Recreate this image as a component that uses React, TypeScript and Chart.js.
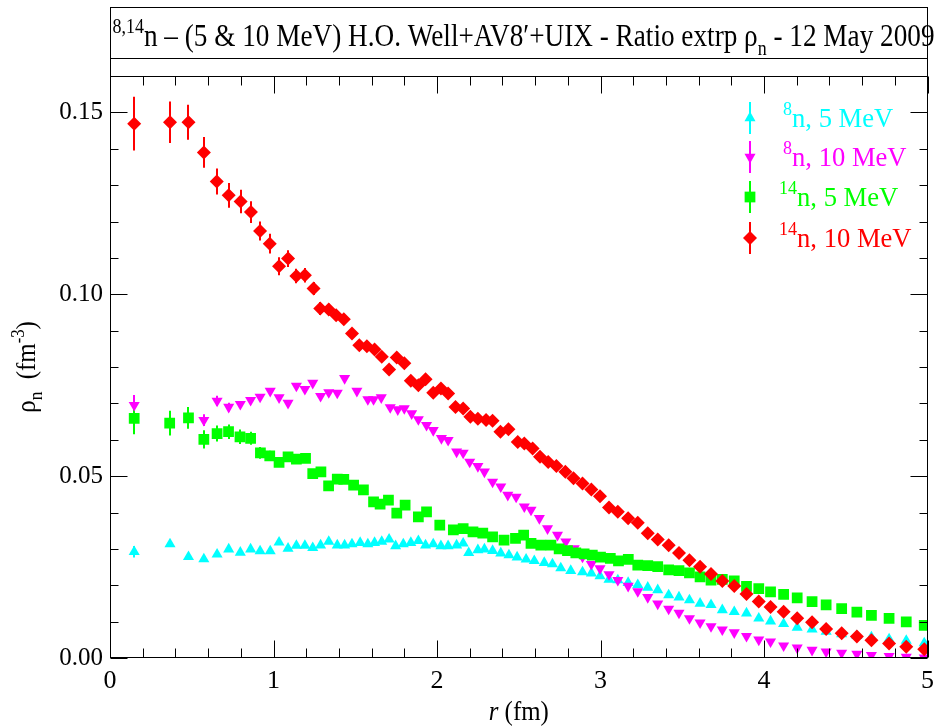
import React, { useEffect, useRef } from 'react';
import { Chart, registerables } from 'chart.js';

Chart.register(...registerables);

const FONT = '"Liberation Serif", "Times New Roman", Times, serif';

// 8n, 5 MeV (cyan)
const r8n5 = [0.148, 0.367, 0.48, 0.574, 0.655, 0.726, 0.797, 0.86, 0.918, 0.98, 1.034, 1.089, 1.14, 1.192, 1.24, 1.288, 1.338, 1.39, 1.435, 1.48, 1.53, 1.577, 1.618, 1.662, 1.707, 1.747, 1.794, 1.84, 1.886, 1.93, 1.977, 2.024, 2.068, 2.12, 2.16, 2.194, 2.25, 2.29, 2.34, 2.39, 2.44, 2.49, 2.545, 2.595, 2.656, 2.706, 2.757, 2.818, 2.89, 2.944, 2.997, 3.052, 3.106, 3.169, 3.228, 3.289, 3.35, 3.417, 3.48, 3.544, 3.609, 3.676, 3.745, 3.818, 3.893, 3.968, 4.04, 4.12, 4.203, 4.294, 4.38, 4.475, 4.568, 4.657, 4.765, 4.87, 4.98];
const rho8n5 = [0.0292, 0.0313, 0.0278, 0.0272, 0.0285, 0.0299, 0.029, 0.0299, 0.0294, 0.0294, 0.0318, 0.0301, 0.0309, 0.0309, 0.0303, 0.031, 0.032, 0.031, 0.031, 0.0313, 0.0317, 0.0313, 0.0317, 0.032, 0.0326, 0.0308, 0.0313, 0.0317, 0.0322, 0.031, 0.0313, 0.0308, 0.0308, 0.031, 0.0315, 0.0289, 0.0297, 0.0299, 0.0295, 0.0288, 0.0283, 0.0277, 0.0271, 0.0267, 0.0262, 0.0258, 0.0247, 0.024, 0.0236, 0.0233, 0.0225, 0.0216, 0.0214, 0.0207, 0.0201, 0.0194, 0.0187, 0.0173, 0.0167, 0.0159, 0.015, 0.0146, 0.0132, 0.0127, 0.0123, 0.0109, 0.0101, 0.0094, 0.0084, 0.0079, 0.0073, 0.0066, 0.0061, 0.0057, 0.0052, 0.0048, 0.0041];
const err8n5 = [0.0016, 0.0008, 0.0007];

// 8n, 10 MeV (magenta)
const r8n10 = [0.148, 0.574, 0.655, 0.726, 0.797, 0.86, 0.918, 0.98, 1.034, 1.089, 1.14, 1.192, 1.24, 1.288, 1.338, 1.39, 1.435, 1.51, 1.577, 1.612, 1.659, 1.714, 1.76, 1.8, 1.845, 1.886, 1.936, 1.977, 2.027, 2.068, 2.12, 2.16, 2.2, 2.25, 2.29, 2.34, 2.39, 2.433, 2.484, 2.534, 2.575, 2.626, 2.676, 2.737, 2.788, 2.839, 2.89, 2.944, 2.997, 3.052, 3.106, 3.169, 3.228, 3.289, 3.35, 3.417, 3.48, 3.544, 3.609, 3.676, 3.745, 3.818, 3.893, 3.968, 4.04, 4.12, 4.203, 4.294, 4.38, 4.475, 4.568, 4.657, 4.765, 4.87, 4.98];
const rho8n10 = [0.0695, 0.0654, 0.0707, 0.069, 0.0698, 0.0709, 0.0718, 0.0734, 0.0716, 0.0701, 0.0748, 0.0739, 0.0756, 0.072, 0.073, 0.0729, 0.0769, 0.0734, 0.0711, 0.0711, 0.0716, 0.0689, 0.0683, 0.0686, 0.0672, 0.0656, 0.064, 0.0626, 0.0604, 0.0599, 0.0567, 0.0564, 0.0539, 0.0527, 0.0512, 0.0484, 0.0471, 0.0448, 0.0443, 0.0416, 0.0407, 0.0384, 0.0356, 0.0338, 0.032, 0.0301, 0.0278, 0.0258, 0.0246, 0.023, 0.0214, 0.0198, 0.0183, 0.0167, 0.0149, 0.0135, 0.0124, 0.0109, 0.0097, 0.0087, 0.0078, 0.007, 0.006, 0.005, 0.0045, 0.0034, 0.0028, 0.0022, 0.0017, 0.0014, 0.0011, 0.0008, 0.0005, 0.0003, 0.0001];
const err8n10 = [0.0028, 0.0016, 0.0014, 0.0012];

// 14n, 5 MeV (green)
const r14n5 = [0.148, 0.365, 0.48, 0.574, 0.655, 0.725, 0.795, 0.86, 0.92, 0.977, 1.034, 1.089, 1.14, 1.196, 1.24, 1.29, 1.337, 1.39, 1.43, 1.49, 1.55, 1.612, 1.652, 1.703, 1.754, 1.805, 1.886, 1.936, 2.017, 2.1, 2.16, 2.22, 2.28, 2.34, 2.41, 2.48, 2.53, 2.575, 2.635, 2.697, 2.747, 2.798, 2.849, 2.9, 2.95, 3.0, 3.06, 3.11, 3.17, 3.228, 3.289, 3.35, 3.417, 3.48, 3.544, 3.609, 3.676, 3.745, 3.818, 3.893, 3.968, 4.04, 4.12, 4.203, 4.294, 4.38, 4.475, 4.568, 4.657, 4.765, 4.87, 4.98];
const rho14n5 = [0.0659, 0.0646, 0.066, 0.0601, 0.0617, 0.0622, 0.0608, 0.0604, 0.0564, 0.0556, 0.0538, 0.0553, 0.0547, 0.0549, 0.0507, 0.0512, 0.0473, 0.0492, 0.0491, 0.0475, 0.0462, 0.0429, 0.0423, 0.0434, 0.0398, 0.042, 0.0388, 0.0402, 0.0365, 0.0352, 0.0356, 0.0347, 0.0343, 0.0333, 0.0324, 0.0329, 0.0338, 0.0315, 0.031, 0.031, 0.03, 0.0295, 0.0289, 0.0286, 0.0283, 0.0277, 0.0274, 0.0267, 0.0271, 0.0255, 0.0254, 0.0251, 0.0242, 0.024, 0.0234, 0.0223, 0.0214, 0.0216, 0.0212, 0.0197, 0.0191, 0.0182, 0.0175, 0.0165, 0.0155, 0.0146, 0.0136, 0.0126, 0.0117, 0.0109, 0.0099, 0.009];
const err14n5 = [0.0044, 0.0034, 0.003, 0.0025, 0.0022, 0.002, 0.002, 0.0018, 0.0016, 0.0014];

// 14n, 10 MeV (red)
const r14n10 = [0.148, 0.367, 0.48, 0.574, 0.653, 0.726, 0.799, 0.862, 0.918, 0.977, 1.034, 1.089, 1.14, 1.192, 1.245, 1.286, 1.338, 1.383, 1.43, 1.48, 1.525, 1.571, 1.618, 1.662, 1.707, 1.754, 1.8, 1.84, 1.886, 1.93, 1.977, 2.024, 2.068, 2.113, 2.16, 2.204, 2.25, 2.3, 2.34, 2.388, 2.437, 2.494, 2.534, 2.585, 2.63, 2.68, 2.73, 2.785, 2.835, 2.89, 2.944, 2.997, 3.052, 3.106, 3.169, 3.228, 3.289, 3.35, 3.417, 3.48, 3.544, 3.609, 3.676, 3.745, 3.818, 3.893, 3.968, 4.04, 4.12, 4.203, 4.294, 4.38, 4.475, 4.568, 4.657, 4.765, 4.87, 4.98];
const rho14n10 = [0.1469, 0.1473, 0.1473, 0.139, 0.131, 0.1272, 0.1255, 0.1226, 0.1174, 0.1139, 0.1077, 0.1098, 0.105, 0.1052, 0.1016, 0.0961, 0.0958, 0.0942, 0.0931, 0.0892, 0.086, 0.0857, 0.0848, 0.0828, 0.0793, 0.0826, 0.081, 0.0762, 0.075, 0.0766, 0.0729, 0.0741, 0.0727, 0.069, 0.0686, 0.0663, 0.0658, 0.0654, 0.0652, 0.0622, 0.0629, 0.0594, 0.059, 0.0576, 0.0553, 0.0539, 0.0528, 0.0512, 0.0494, 0.048, 0.0463, 0.0445, 0.0414, 0.0402, 0.0384, 0.0372, 0.0343, 0.0326, 0.031, 0.0289, 0.0269, 0.0251, 0.0231, 0.0212, 0.0198, 0.0176, 0.0155, 0.014, 0.0127, 0.0109, 0.0098, 0.008, 0.0068, 0.0059, 0.0049, 0.004, 0.0031, 0.0024];
const err14n10 = [0.0074, 0.0057, 0.0048, 0.0042, 0.0036, 0.0034, 0.0032, 0.003, 0.0026, 0.0027, 0.0025, 0.0023, 0.002, 0.002, 0.0018, 0.0018, 0.0016];

const xTickValues = [0, 1, 2, 3, 4, 5];
const yTickValues = [0, 0.05, 0.1, 0.15];

const CYAN = '#00ffff';
const MAGENTA = '#ff00ff';
const GREEN = '#00ff00';
const RED = '#ff0000';

type Seg = { t: string; size: number; dy?: number; italic?: boolean };

function segFont(s: Seg) {
  return `${s.italic ? 'italic ' : ''}${s.size}px ${FONT}`;
}

function richWidth(ctx: CanvasRenderingContext2D, segs: Seg[]) {
  let w = 0;
  for (const s of segs) {
    ctx.font = segFont(s);
    w += ctx.measureText(s.t).width;
  }
  return w;
}

function drawRich(ctx: CanvasRenderingContext2D, segs: Seg[], x: number, y: number, color: string, align: 'left' | 'center' = 'left', sx = 1) {
  const w = richWidth(ctx, segs) * sx;
  const x0 = align === 'center' ? x - w / 2 : x;
  ctx.save();
  ctx.translate(x0, y);
  ctx.scale(sx, 1);
  ctx.fillStyle = color;
  ctx.textBaseline = 'alphabetic';
  ctx.textAlign = 'left';
  let cx = 0;
  for (const s of segs) {
    ctx.font = segFont(s);
    ctx.fillText(s.t, cx, s.dy || 0);
    cx += ctx.measureText(s.t).width;
  }
  ctx.restore();
}

function drawMarker(ctx: CanvasRenderingContext2D, style: string, x: number, y: number, r: number, color: string) {
  ctx.fillStyle = color;
  ctx.beginPath();
  if (style === 'triangle' || style === 'triangleDown') {
    const s = style === 'triangle' ? 1 : -1;
    const h = Math.sin(Math.PI / 3) * r;
    ctx.moveTo(x, y - s * r);
    ctx.lineTo(x + h, y + s * r * 0.5);
    ctx.lineTo(x - h, y + s * r * 0.5);
  } else if (style === 'rect') {
    const a = r * Math.SQRT1_2;
    ctx.rect(x - a, y - a, 2 * a, 2 * a);
  } else {
    ctx.moveTo(x, y - r);
    ctx.lineTo(x + r, y);
    ctx.lineTo(x, y + r);
    ctx.lineTo(x - r, y);
  }
  ctx.closePath();
  ctx.fill();
}

const legendEntries = [
  { color: CYAN, style: 'triangle', r: 6.4, sup: '8', main: 'n, 5 MeV', y: 118 },
  { color: MAGENTA, style: 'triangleDown', r: 6.4, sup: '8', main: 'n, 10 MeV', y: 157 },
  { color: GREEN, style: 'rect', r: 7.6, sup: '14', main: 'n, 5 MeV', y: 197 },
  { color: RED, style: 'rectRot', r: 7, sup: '14', main: 'n, 10 MeV', y: 238 },
];

const errorBarPlugin = {
  id: 'errorBars',
  beforeDatasetsDraw(chart: any) {
    const ctx = chart.ctx as CanvasRenderingContext2D;
    const xs = chart.scales.x;
    const ys = chart.scales.y;
    ctx.save();
    chart.data.datasets.forEach((ds: any) => {
      const errs: number[] = ds.errors || [];
      ctx.strokeStyle = ds.backgroundColor;
      ctx.lineWidth = 2;
      ds.data.forEach((p: any, j: number) => {
        const e = errs[j];
        if (!e) return;
        const px = Math.round(xs.getPixelForValue(p.x));
        ctx.beginPath();
        ctx.moveTo(px, ys.getPixelForValue(p.y - e));
        ctx.lineTo(px, ys.getPixelForValue(p.y + e));
        ctx.stroke();
      });
    });
    ctx.restore();
  },
};

const decorPlugin = {
  id: 'decor',
  afterDraw(chart: any) {
    const ctx = chart.ctx as CanvasRenderingContext2D;
    const a = chart.chartArea;
    const xs = chart.scales.x;
    const ys = chart.scales.y;
    ctx.save();
    ctx.strokeStyle = '#000';
    ctx.lineWidth = 1;
    const L = Math.round(a.left) + 0.5;
    const R = Math.round(a.right) - 0.5;
    const T = Math.round(a.top) + 0.5;
    const B = Math.round(a.bottom) - 0.5;
    ctx.strokeRect(L, T, R - L, B - T);
    ctx.strokeRect(L, 7.5, R - L, T - 7.5);
    ctx.beginPath();
    ctx.moveTo(L, 58.5);
    ctx.lineTo(R, 58.5);
    ctx.stroke();

    ctx.beginPath();
    for (let i = 0; i <= 25; i++) {
      const v = i * 0.2;
      const px = Math.round(xs.getPixelForValue(v)) + 0.5;
      const len = i % 5 === 0 ? 17 : 9;
      ctx.moveTo(px, B);
      ctx.lineTo(px, B - len);
      ctx.moveTo(px, T);
      ctx.lineTo(px, T + len);
    }
    for (let i = 0; i <= 16; i++) {
      const v = i * 0.01;
      const py = Math.round(ys.getPixelForValue(v)) + 0.5;
      const len = i % 5 === 0 ? 17 : 8;
      ctx.moveTo(L, py);
      ctx.lineTo(L + len, py);
      ctx.moveTo(R, py);
      ctx.lineTo(R - len, py);
    }
    ctx.stroke();

    // title (condensed serif)
    const ts = 31;
    const titleSegs: Seg[] = [
      { t: '8,14', size: ts * 0.66, dy: -ts * 0.42 },
      { t: 'n \u2013 (5 & 10 MeV) H.O. Well+AV8\u2032+UIX - Ratio extrp \u03c1', size: ts },
      { t: 'n', size: ts * 0.66, dy: ts * 0.28 },
      { t: ' - 12 May 2009', size: ts },
    ];
    const w0 = richWidth(ctx, titleSegs);
    drawRich(ctx, titleSegs, L + 2, 46, '#000', 'left', 822 / w0);

    // axis titles
    drawRich(ctx, [
      { t: 'r', size: 27, italic: true },
      { t: ' (fm)', size: 27 },
    ], (a.left + a.right) / 2, 720, '#000', 'center', 0.92);

    ctx.save();
    ctx.translate(35, (a.top + a.bottom) / 2);
    ctx.rotate(-Math.PI / 2);
    drawRich(ctx, [
      { t: '\u03c1', size: 27 },
      { t: 'n', size: 19, dy: 7 },
      { t: '  (fm', size: 27 },
      { t: '-3', size: 18, dy: -11 },
      { t: ')', size: 27 },
    ], 0, 0, '#000', 'center', 0.92);
    ctx.restore();

    // legend
    for (const e of legendEntries) {
      ctx.strokeStyle = e.color;
      ctx.lineWidth = 2;
      ctx.beginPath();
      ctx.moveTo(750, e.y - 16);
      ctx.lineTo(750, e.y + 16);
      ctx.stroke();
      drawMarker(ctx, e.style, 750, e.y, e.r, e.color);
      const tx = e.sup.length > 1 ? 779 : 783;
      drawRich(ctx, [
        { t: e.sup, size: 19, dy: -12 },
        { t: e.main, size: 28 },
      ], tx, e.y + 9, e.color, 'left', 0.95);
    }
    ctx.restore();
  },
};

function pts(xs: number[], ys: number[]) {
  return xs.map((x, i) => ({ x, y: ys[i] }));
}

export default function App() {
  const ref = useRef<HTMLCanvasElement | null>(null);

  useEffect(() => {
    if (!ref.current) return;
    const chart = new Chart(ref.current, {
      type: 'scatter',
      data: {
        datasets: [
          {
            label: '8n, 5 MeV',
            data: pts(r8n5, rho8n5),
            errors: err8n5,
            backgroundColor: CYAN,
            borderColor: CYAN,
            pointStyle: 'triangle',
            pointRadius: 6.4,
            pointBorderWidth: 0,
            order: 3,
          } as any,
          {
            label: '8n, 10 MeV',
            data: pts(r8n10, rho8n10),
            errors: err8n10,
            backgroundColor: MAGENTA,
            borderColor: MAGENTA,
            pointStyle: 'triangle',
            rotation: 180,
            pointRadius: 6.4,
            pointBorderWidth: 0,
            order: 2,
          } as any,
          {
            label: '14n, 5 MeV',
            data: pts(r14n5, rho14n5),
            errors: err14n5,
            backgroundColor: GREEN,
            borderColor: GREEN,
            pointStyle: 'rect',
            pointRadius: 7.6,
            pointBorderWidth: 0,
            order: 1,
          } as any,
          {
            label: '14n, 10 MeV',
            data: pts(r14n10, rho14n10),
            errors: err14n10,
            backgroundColor: RED,
            borderColor: RED,
            pointStyle: 'rectRot',
            pointRadius: 7,
            pointBorderWidth: 0,
            order: 0,
          } as any,
        ],
      },
      options: {
        animation: false,
        responsive: false,
        maintainAspectRatio: false,
        events: [],
        layout: { padding: { left: 0, right: 9, top: 76, bottom: 0 } },
        plugins: {
          legend: { display: false },
          tooltip: { enabled: false },
          title: { display: false },
        },
        scales: {
          x: {
            type: 'linear',
            min: 0,
            max: 5,
            grid: { display: false, drawTicks: false },
            border: { display: false },
            afterBuildTicks: (s: any) => {
              s.ticks = xTickValues.map((v) => ({ value: v }));
            },
            ticks: {
              padding: 8,
              color: '#000',
              font: { family: FONT, size: 26 },
              maxRotation: 0,
              autoSkip: false,
              callback: (v: any) => String(v),
            },
            afterFit: (s: any) => {
              s.height = 70;
            },
          },
          y: {
            type: 'linear',
            min: 0,
            max: 0.16,
            grid: { display: false, drawTicks: false },
            border: { display: false },
            afterBuildTicks: (s: any) => {
              s.ticks = yTickValues.map((v) => ({ value: v }));
            },
            ticks: {
              padding: 7,
              color: '#000',
              font: { family: FONT, size: 25 },
              autoSkip: false,
              callback: (v: any) => Number(v).toFixed(2),
            },
            afterFit: (s: any) => {
              s.width = 110;
            },
          },
        },
      } as any,
      plugins: [errorBarPlugin, decorPlugin],
    });
    return () => chart.destroy();
  }, []);

  return (
    <div style={{ position: 'fixed', left: 0, top: 0, width: 942, height: 728, background: '#fff' }}>
      <canvas ref={ref} width={942} height={728} style={{ width: 942, height: 728, display: 'block' }} />
    </div>
  );
}
